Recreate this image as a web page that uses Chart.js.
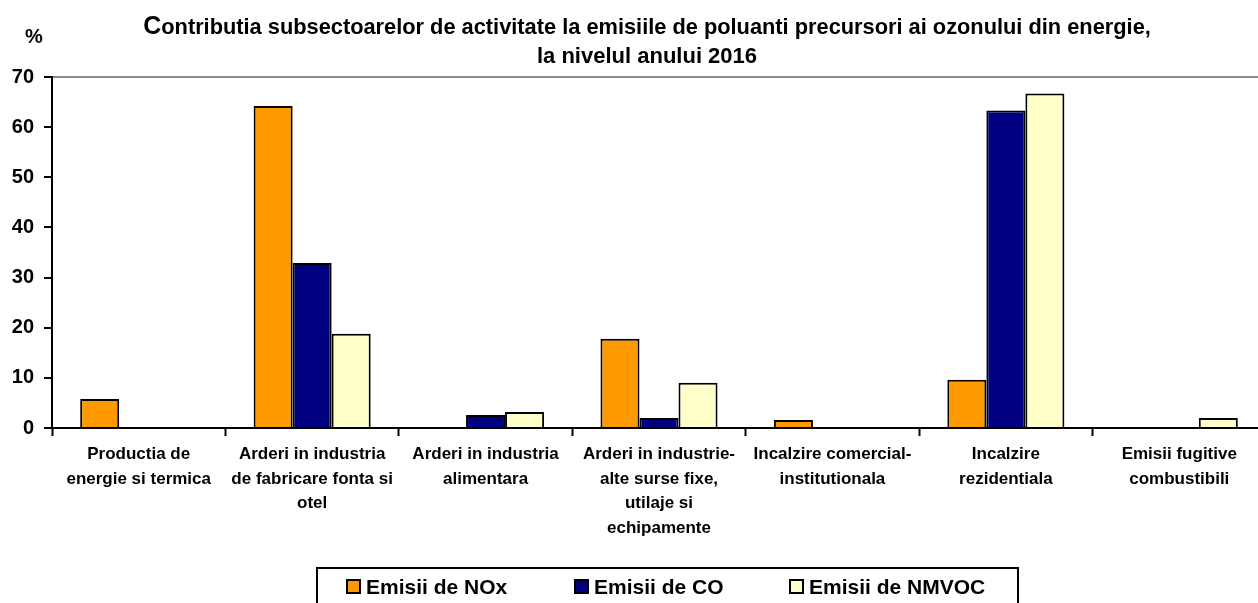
<!DOCTYPE html>
<html><head><meta charset="utf-8">
<script src="https://cdn.jsdelivr.net/npm/chart.js@4/dist/chart.umd.min.js"></script>
<style>html,body{margin:0;padding:0;background:#fff;overflow:hidden}#wrap{width:1258px;height:603px;overflow:hidden}</style>
</head><body><div id="wrap"><canvas id="c" width="1266" height="603"></canvas></div>
<script>
const categories = [
  ["Productia de","energie si termica"],
  ["Arderi in industria","de fabricare fonta si","otel"],
  ["Arderi in industria","alimentara"],
  ["Arderi in industrie-","alte surse fixe,","utilaje si","echipamente"],
  ["Incalzire comercial-","institutionala"],
  ["Incalzire","rezidentiala"],
  ["Emisii fugitive","combustibili"]
];
const seriesNames = ["Emisii de NOx","Emisii de CO","Emisii de NMVOC"];
const noxValues   = [5.8, 64.2, null, 17.8, 1.6, 9.6, null];
const coValues    = [null, 32.9, 2.6, 2.0, null, 63.3, null];
const nmvocValues = [null, 18.8, 3.2, 9.0, null, 66.7, 2.0];
const yTicks = [0,10,20,30,40,50,60,70];
const titleLines = ["Contributia subsectoarelor de activitate la emisiile de poluanti precursori ai ozonului din energie,","la nivelul anului 2016"];
const yUnit = "%";
const colors = ["#FF9900","#000080","#FFFFCC"];

const FONT = "Arial, 'Liberation Sans', sans-serif";

const decor = {
  id:'decor',
  afterDraw(chart){
    const ctx = chart.ctx;
    ctx.save();
    ctx.fillStyle = '#000';
    ctx.textBaseline = 'alphabetic';
    const first = titleLines[0];
    ctx.font = 'bold 25px ' + FONT;
    const wC = ctx.measureText(first[0]).width;
    ctx.font = 'bold 21.8px ' + FONT;
    const wRest = ctx.measureText(first.slice(1)).width;
    let x0 = 647 - (wC + wRest)/2;
    ctx.font = 'bold 25px ' + FONT;
    ctx.textAlign = 'left';
    ctx.fillText(first[0], x0, 34);
    ctx.font = 'bold 21.8px ' + FONT;
    ctx.fillText(first.slice(1), x0 + wC, 34);
    ctx.textAlign = 'center';
    ctx.font = 'bold 22px ' + FONT;
    ctx.fillText(titleLines[1], 647, 63);
    ctx.font = 'bold 20px ' + FONT;
    ctx.textAlign = 'left';
    ctx.fillText(yUnit, 25, 43);
    // legend
    ctx.strokeStyle = '#000';
    ctx.lineWidth = 2;
    ctx.strokeRect(317, 568, 701, 50);
    const xs = [347, 575, 790];
    ctx.font = 'bold 21px ' + FONT;
    ctx.textAlign = 'left';
    ctx.textBaseline = 'middle';
    chart.data.datasets.forEach((ds,i)=>{
      const bx = xs[i];
      ctx.fillStyle = ds.backgroundColor;
      ctx.fillRect(bx, 580, 13, 13);
      ctx.lineWidth = 2;
      ctx.strokeRect(bx, 580, 13, 13);
      ctx.fillStyle = '#000';
      ctx.fillText(ds.label, bx + 19, 588);
    });
    ctx.restore();
  }
};

new Chart(document.getElementById('c'), {
  type:'bar',
  data:{
    labels: categories,
    datasets:[
      {label:seriesNames[0], data:noxValues, backgroundColor:colors[0]},
      {label:seriesNames[1], data:coValues, backgroundColor:colors[1]},
      {label:seriesNames[2], data:nmvocValues, backgroundColor:colors[2]}
    ]
  },
  options:{
    responsive:false,
    animation:false,
    devicePixelRatio:1,
    layout:{padding:{top:77,right:0,left:0,bottom:0}},
    datasets:{bar:{borderColor:'#000',borderWidth:2,borderSkipped:'bottom',barPercentage:1,categoryPercentage:0.675}},
    plugins:{legend:{display:false},title:{display:false},tooltip:{enabled:false}},
    scales:{
      x:{
        grid:{offset:true,drawOnChartArea:false,drawTicks:true,tickLength:8,tickColor:'#000',tickWidth:2},
        border:{color:'#000',width:2},
        ticks:{color:'#000',font:{family:FONT,size:17,weight:'bold',lineHeight:1.45},maxRotation:0,autoSkip:false,padding:6},
        afterFit(s){s.height=175;}
      },
      y:{
        min:0,max:70,
        afterBuildTicks(s){s.ticks = yTicks.map(v=>({value:v}));},
        grid:{drawTicks:true,tickLength:8,tickColor:'#000',tickWidth:2,
          color:c=> (c.tick && c.tick.value===70) ? '#8c8c8c' : 'rgba(0,0,0,0)',lineWidth:2},
        border:{color:'#000',width:2},
        ticks:{color:'#000',font:{family:FONT,size:20,weight:'bold'},padding:10},
        afterFit(s){s.width=52;}
      }
    }
  },
  plugins:[decor]
});
</script></body></html>
